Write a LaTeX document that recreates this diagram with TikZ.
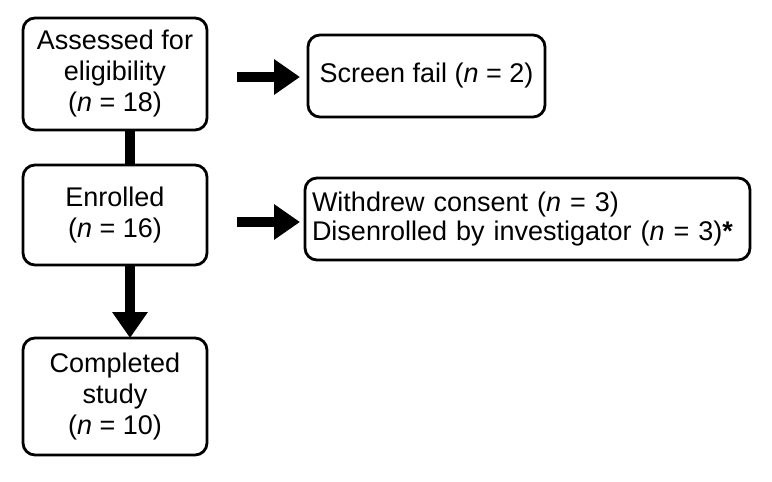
\documentclass[tikz,border=0pt]{standalone}
\usepackage{fontspec}
\setmainfont{Liberation Sans}
\usetikzlibrary{arrows.meta}
\begin{document}
\begin{tikzpicture}[x=1pt,y=-1pt,
  box/.style={draw,line width=2.8pt,rounded corners=12pt,align=center,font=\fontsize{27}{31}\selectfont,inner sep=0pt},
  bigarrow/.style={line width=10pt,-{Triangle[width=34pt,length=26pt]}},
  bar/.style={line width=10pt}]
\useasboundingbox (0,0) rectangle (772,482);
\node[box,minimum width=184pt,minimum height=112pt] (a) at (115,74) {Assessed for\\eligibility\\(\textit{n} = 18)};
\node[box,minimum width=237pt,minimum height=82pt] (b) at (426.5,76) {Screen fail (\textit{n} = 2)};
\node[box,minimum width=184pt,minimum height=100pt] (c) at (115,215) {Enrolled\\(\textit{n} = 16)};
\node[box,text width=431pt,inner xsep=7pt,minimum height=82pt,align=left,font=\fontsize{27}{29}\selectfont] (d) at (527.5,219) {Withdrew consent (\textit{n} = 3)\\Disenrolled by investigator (\textit{n} = 3)\textbf{*}};
\node[box,minimum width=184pt,minimum height=117pt] (e) at (115,396.5) {Completed\\study\\(\textit{n} = 10)};
\coordinate (a1) at (237,77); \coordinate (a2) at (300,77);
\draw[bigarrow] (a1) -- (a2);
\coordinate (c1) at (237,222); \coordinate (c2) at (300,222);
\draw[bigarrow] (c1) -- (c2);
\draw[bar] (130,130) -- (130,165);
\draw[bigarrow] (130,265) -- (130,338);
\end{tikzpicture}
\end{document}
